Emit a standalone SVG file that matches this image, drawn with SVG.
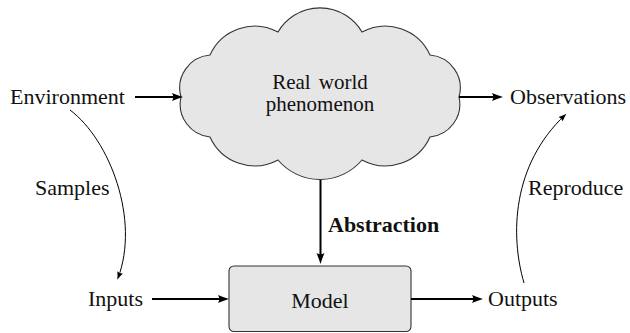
<svg xmlns="http://www.w3.org/2000/svg" width="630" height="333" viewBox="0 0 630 333">
<style>
text{font-family:"Liberation Serif","Times New Roman",serif;font-size:22px;fill:#111}
.b{font-weight:bold}
.c{font-size:21px}
.shape{fill:#e6e6e6;stroke:#333;stroke-width:1.1}
.thick{fill:none;stroke:#000;stroke-width:2}
.thin{fill:none;stroke:#000;stroke-width:1}
</style>
<defs>
<marker id="ah" markerUnits="userSpaceOnUse" markerWidth="12" markerHeight="10" viewBox="0 0 12 10" refX="5" refY="5" orient="auto">
<path d="M0,1 Q6,3.5 11,5 Q6,6.5 0,9 Q2.5,5 0,1Z" fill="#000"/>
</marker>
<marker id="ah2" markerUnits="userSpaceOnUse" markerWidth="9" markerHeight="8" viewBox="0 0 9 8" refX="6" refY="4" orient="auto">
<path d="M0,1 Q4,3 8,4 Q4,5 0,7 Q1.5,4 0,1Z" fill="#000"/>
</marker>
</defs>
<g id="cloud">
<path class="shape" d="M181,97 A33,33 0 0 1 210,55 A49,49 0 0 1 278,32 A48.6,48.6 0 0 1 362,32 A49,49 0 0 1 430,55 A33,33 0 0 1 459,97 A33,33 0 0 1 430,137 A49,49 0 0 1 362,160 A55,55 0 0 1 278,160 A49,49 0 0 1 210,137 A33,33 0 0 1 181,97Z"/>
<text class="c" x="320" y="89" text-anchor="middle" word-spacing="3">Real world</text>
<text class="c" x="320" y="111" text-anchor="middle">phenomenon</text>
</g>
<g id="model">
<rect class="shape" x="229" y="266" width="182" height="65.5" rx="5"/>
<text x="320" y="308" text-anchor="middle">Model</text>
</g>
<g id="environment"><text x="10" y="104">Environment</text></g>
<g id="observations"><text x="510" y="104">Observations</text></g>
<g id="inputs"><text x="88" y="306">Inputs</text></g>
<g id="outputs"><text x="488" y="306">Outputs</text></g>
<g id="connectors">
<path class="thick" d="M135,97 H177" marker-end="url(#ah)"/>
<path class="thick" d="M459,97 H497" marker-end="url(#ah)"/>
<path class="thick" d="M320.5,180 V258" marker-end="url(#ah)"/>
<path class="thick" d="M152,299 H223" marker-end="url(#ah)"/>
<path class="thick" d="M411,299 H477" marker-end="url(#ah)"/>
<path class="thin" d="M70,110 C110,140 140,220 118,278" marker-end="url(#ah2)"/>
<path class="thin" d="M524,283 C510,235 512,165 565,115" marker-end="url(#ah2)"/>
<text x="35" y="195">Samples</text>
<text x="528" y="195">Reproduce</text>
<text class="b" x="328" y="232">Abstraction</text>
</g>
</svg>
